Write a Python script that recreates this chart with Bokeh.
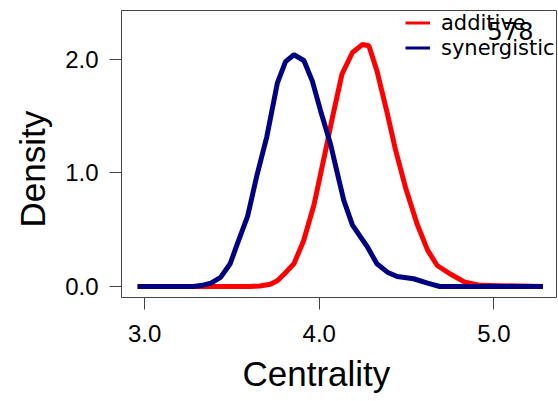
from bokeh.plotting import figure
from bokeh.models import Range1d, FixedTicker, NumeralTickFormatter, Legend, LegendItem, Label, Title
from bokeh.embed import file_html
from bokeh.resources import INLINE

# Data (Centrality vs. Density)
add_x = [2.96, 3.60, 3.66, 3.72, 3.76, 3.80, 3.855, 3.91, 3.97, 4.027, 4.08, 4.13, 4.19, 4.246,
         4.284, 4.33, 4.39, 4.437, 4.494, 4.56, 4.62, 4.675, 4.75, 4.83, 4.92, 5.28]
add_y = [0.0, 0.0, 0.005, 0.02, 0.05, 0.11, 0.20, 0.40, 0.72, 1.13, 1.52, 1.87, 2.06, 2.13,
         2.12, 1.90, 1.52, 1.20, 0.87, 0.55, 0.32, 0.185, 0.11, 0.04, 0.01, 0.0]

syn_x = [2.96, 3.28, 3.33, 3.38, 3.435, 3.49, 3.53, 3.59, 3.645, 3.70, 3.76, 3.807, 3.855, 3.912,
         3.96, 4.007, 4.065, 4.10, 4.14, 4.19, 4.275, 4.33, 4.39, 4.446, 4.54, 4.62, 4.69, 5.28]
syn_y = [0.0, 0.0, 0.01, 0.03, 0.08, 0.20, 0.37, 0.62, 0.99, 1.32, 1.79, 1.98, 2.04, 1.99,
         1.81, 1.55, 1.25, 1.02, 0.76, 0.54, 0.35, 0.20, 0.126, 0.088, 0.068, 0.03, 0.0, 0.0]

x_ticks = [3, 4, 5]
y_ticks = [0, 1, 2]
series_labels = ["additive", "synergistic"]
series_colors = ["#FF0000", "#000080"]
x_title = "Centrality"
y_title = "Density"
note_text = "578"

p = figure(width=558, height=401, output_backend="svg", toolbar_location=None,
           x_range=Range1d(2.868, 5.358), y_range=Range1d(-0.097, 2.43),
           min_border_left=121, min_border_right=2, min_border_top=10, min_border_bottom=104)
p.background_fill_color = "white"
p.border_fill_color = "white"
p.outline_line_color = "#444444"
p.outline_line_width = 1
p.grid.visible = False

r_add = p.line(add_x, add_y, line_color=series_colors[0], line_width=5)
r_syn = p.line(syn_x, syn_y, line_color=series_colors[1], line_width=5)

# thinner legend keys, as in the reference (renderers with no visible data)
nan = float("nan")
k_add = p.line(x=[nan], y=[nan], line_color=series_colors[0], line_width=3)
k_syn = p.line(x=[nan], y=[nan], line_color=series_colors[1], line_width=3)

for ax, ticks in ((p.xaxis[0], x_ticks), (p.yaxis[0], y_ticks)):
    ax.ticker = FixedTicker(ticks=ticks)
    ax.formatter = NumeralTickFormatter(format="0.0")
    ax.axis_line_color = None
    ax.major_tick_line_color = "#444444"
    ax.major_tick_out = 12
    ax.major_tick_in = 0
    ax.minor_tick_line_color = None
    ax.major_label_text_font = "Liberation Sans"
    ax.major_label_text_font_size = "24px"
    ax.major_label_text_color = "black"

p.xaxis.major_label_standoff = 15
p.yaxis.major_label_standoff = 11
p.yaxis.major_label_orientation = "horizontal"

# axis titles, offset from the frame centre as in the reference
p.add_layout(Title(text=x_title, align="left", offset=121, standoff=15,
                   text_font="Liberation Sans", text_font_size="35px",
                   text_font_style="normal", text_color="black"), "below")
p.add_layout(Title(text=y_title, align="left", offset=70, standoff=21,
                   text_font="Liberation Sans", text_font_size="35px",
                   text_font_style="normal", text_color="black"), "left")

legend = Legend(items=[LegendItem(label=series_labels[0], renderers=[k_add]),
                       LegendItem(label=series_labels[1], renderers=[k_syn])],
                location=(284, 237), border_line_color=None, background_fill_alpha=0,
                padding=0, margin=0, spacing=0, glyph_width=25, glyph_height=25,
                label_height=25, label_standoff=11,
                label_text_font="DejaVu Sans", label_text_font_size="21px",
                label_text_color="black")
p.add_layout(legend)

note = Label(x=389, y=267, x_units="screen", y_units="screen", text=note_text,
             text_font="DejaVu Sans", text_font_size="24px", text_align="center",
             text_baseline="middle", text_color="black")
p.add_layout(note)

open("out.html", "w").write(file_html(p, INLINE))
